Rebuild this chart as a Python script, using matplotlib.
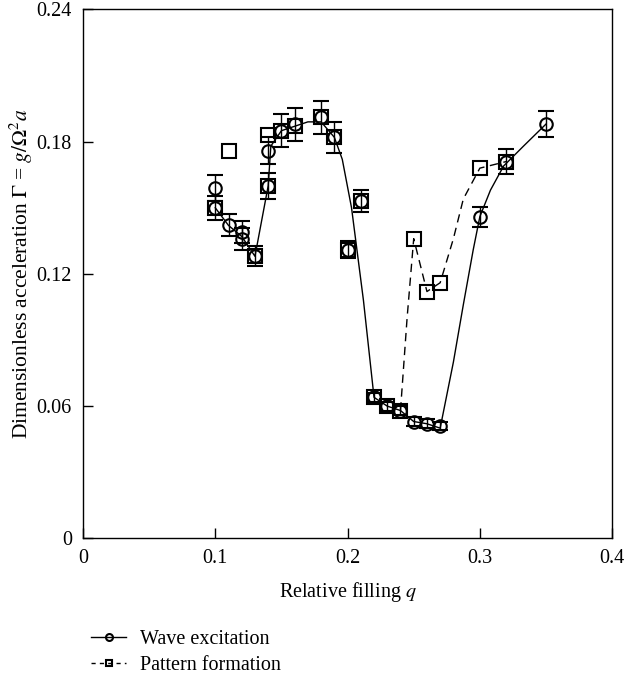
import matplotlib
matplotlib.use('Agg')
import matplotlib.pyplot as plt
import numpy as np
from matplotlib.lines import Line2D

plt.rcParams['font.family'] = ['Liberation Serif', 'DejaVu Serif']
plt.rcParams['mathtext.fontset'] = 'stix'
plt.rcParams['font.size'] = 14.5

# wave excitation (circles)
wave_q = [0.10, 0.10, 0.11, 0.12, 0.12, 0.13, 0.14, 0.14, 0.15, 0.16, 0.18, 0.19,
          0.20, 0.21, 0.22, 0.23, 0.24, 0.25, 0.26, 0.27, 0.30, 0.32, 0.35]
wave_g = [0.159, 0.150, 0.142, 0.139, 0.136, 0.128, 0.176, 0.160, 0.185, 0.188, 0.191, 0.182,
          0.131, 0.153, 0.064, 0.060, 0.058, 0.053, 0.052, 0.051, 0.146, 0.171, 0.188]
wave_err = [0.006, 0.0055, 0.005, 0.005, 0.005, 0.0045, 0.006, 0.006, 0.0075, 0.0075, 0.0075, 0.007,
            0.004, 0.005, 0.002, 0.002, 0.002, 0.002, 0.002, 0.002, 0.0045, 0.0055, 0.006]

# pattern formation (squares)
pat_q = [0.10, 0.11, 0.13, 0.14, 0.14, 0.15, 0.16, 0.18, 0.19, 0.20, 0.21,
         0.22, 0.23, 0.24, 0.25, 0.26, 0.27, 0.30, 0.32]
pat_g = [0.150, 0.176, 0.128, 0.183, 0.160, 0.185, 0.187, 0.191, 0.182, 0.131, 0.153,
         0.064, 0.060, 0.058, 0.136, 0.112, 0.116, 0.168, 0.171]

# solid fit curve (wave excitation)
fit_q = [0.10, 0.11, 0.12, 0.13, 0.14, 0.142, 0.15, 0.16, 0.17, 0.18, 0.19, 0.196, 0.203,
         0.212, 0.22, 0.23, 0.24, 0.25, 0.26, 0.27, 0.28, 0.2875, 0.295, 0.30, 0.308, 0.318, 0.333, 0.35]
fit_g = [0.150, 0.142, 0.137, 0.128, 0.160, 0.178, 0.185, 0.187, 0.189, 0.189, 0.182, 0.172, 0.150,
         0.108, 0.064, 0.060, 0.058, 0.053, 0.052, 0.050, 0.080, 0.106, 0.131, 0.146, 0.158, 0.169, 0.178, 0.188]

# dashed curve (pattern formation)
dash_q = [0.24, 0.245, 0.25, 0.26, 0.27, 0.28, 0.2875, 0.30, 0.32]
dash_g = [0.058, 0.100, 0.136, 0.112, 0.116, 0.136, 0.154, 0.168, 0.171]

fig = plt.figure(figsize=(6.24, 6.78), dpi=100)
ax = fig.add_axes([0.133, 0.206, 0.848, 0.78])

ax.plot(fit_q, fit_g, color='black', lw=1.0, zorder=2)
ax.plot(dash_q, dash_g, color='black', lw=1.0, ls=(0, (6, 4)), zorder=2)

ax.errorbar(wave_q, wave_g, yerr=wave_err, fmt='o', mfc='none', mec='black', mew=1.5,
            ms=9, ecolor='black', elinewidth=1.0, capsize=6, capthick=1.0, zorder=3)
ax.plot(pat_q, pat_g, 's', mfc='none', mec='black', mew=1.5, ms=10, zorder=3)

ax.set_xlim(0, 0.4)
ax.set_ylim(0, 0.24)
ax.set_xticks([0, 0.1, 0.2, 0.3, 0.4])
ax.set_xticklabels(['0', '0.1', '0.2', '0.3', '0.4'])
ax.set_yticks([0, 0.06, 0.12, 0.18, 0.24])
ax.set_yticklabels(['0', '0.06', '0.12', '0.18', '0.24'])
ax.tick_params(direction='in', length=7, width=1, top=False, right=False, pad=8)
for s in ax.spines.values():
    s.set_linewidth(1.0)

ax.set_xlabel('Relative filling $q$', labelpad=8)
ax.set_ylabel(r'Dimensionless acceleration $\Gamma$ = $g/\Omega^2 a$', labelpad=1, fontsize=15.5)

handles = [
    Line2D([], [], color='black', lw=1.0, marker='o', ms=5, mfc='none', mew=1.5),
    Line2D([], [], color='black', lw=1.0, ls=(0, (3, 3)), marker='s', ms=5, mfc='none', mew=1.5),
]
fig.legend(handles, ['Wave excitation', 'Pattern formation'], loc='upper left',
           bbox_to_anchor=(0.117, 0.097), frameon=False, handlelength=1.75,
           handletextpad=0.7, labelspacing=0.3, borderpad=0.4, fontsize=14.5)

fig.savefig('out.png', dpi=100)
